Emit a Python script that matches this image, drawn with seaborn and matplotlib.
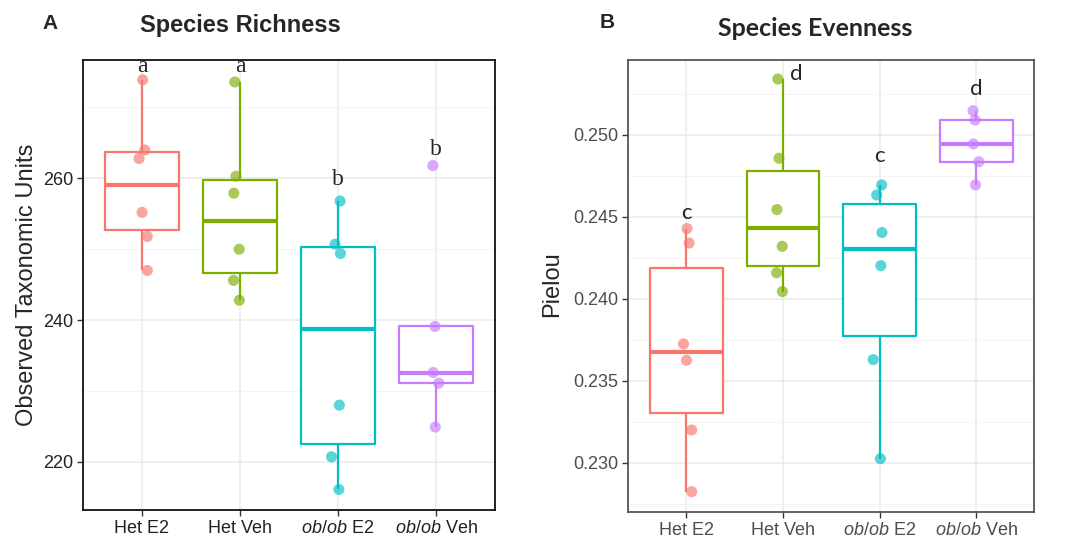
import numpy as np
import pandas as pd
import matplotlib
matplotlib.use("Agg")
import matplotlib.pyplot as plt
import seaborn as sns

#%% data
groups = ["Het E2", "Het Veh", "ob/ob E2", "ob/ob Veh"]
tick_labels = ["Het E2", "Het Veh", r"$\mathit{ob/ob}$ E2", r"$\mathit{ob/ob}$ Veh"]
colors = ["#F8766D", "#7CAE00", "#00BFC4", "#C77CFF"]

# observed taxonomic units (richness)
rich_het_e2 = [273.9, 264.0, 262.8, 255.2, 251.8, 247.0]
rich_het_veh = [273.6, 260.3, 257.9, 250.0, 245.6, 242.8]
rich_ob_e2 = [256.8, 250.7, 249.4, 228.0, 220.7, 216.1]
rich_ob_veh = [261.8, 239.1, 232.6, 231.1, 224.9]

# pielou evenness
even_het_e2 = [0.24429, 0.24341, 0.23726, 0.23626, 0.23201, 0.22825]
even_het_veh = [0.25341, 0.24858, 0.24545, 0.24321, 0.24160, 0.24045]
even_ob_e2 = [0.24695, 0.24634, 0.24405, 0.24203, 0.23630, 0.23026]
even_ob_veh = [0.25148, 0.25091, 0.24945, 0.24837, 0.24695]

# significance letters and where they sit
rich_letters = ["a", "a", "b", "b"]
rich_letter_y = [275.0, 275.0, 259.05, 263.3]
even_letters = ["c", "d", "c", "d"]
even_letter_y = [0.2449, 0.25335, 0.24834, 0.25244]


def make_df(vals):
    rows = []
    for g, v in zip(groups, vals):
        for x in v:
            rows.append((g, x))
    return pd.DataFrame(rows, columns=["group", "value"])


rich = make_df([rich_het_e2, rich_het_veh, rich_ob_e2, rich_ob_veh])
even = make_df([even_het_e2, even_het_veh, even_ob_e2, even_ob_veh])

sns.set_style("white")
plt.rcParams["font.family"] = ["Liberation Sans", "DejaVu Sans"]
plt.rcParams["mathtext.fontset"] = "custom"
plt.rcParams["mathtext.it"] = "Liberation Sans:italic"
plt.rcParams["mathtext.rm"] = "Liberation Sans"

fig = plt.figure(figsize=(10.73, 5.41), dpi=100)
ax1 = fig.add_axes([0.0774, 0.0573, 0.3839, 0.8318])
ax2 = fig.add_axes([0.5856, 0.0530, 0.3783, 0.8361])

pal = dict(zip(groups, colors))


def panel(ax, df, ylim, major, minor, frame_col, tick_col):
    ax.set_axisbelow(True)
    # white box fill first, then coloured outlines on top
    sns.boxplot(data=df, x="group", y="value", order=groups, color="white",
                width=0.75, linewidth=0, showfliers=False, showcaps=False,
                ax=ax)
    sns.boxplot(data=df, x="group", y="value", order=groups, hue="group",
                palette=pal, fill=False, width=0.75, linewidth=1.6,
                showfliers=False, showcaps=False, legend=False,
                medianprops={"linewidth": 3.0}, ax=ax)
    np.random.seed(3)
    sns.stripplot(data=df, x="group", y="value", order=groups, hue="group",
                  palette=pal, jitter=0.07, size=8, alpha=0.65, linewidth=0,
                  legend=False, zorder=5, ax=ax)
    ax.set_xlim(-0.6, 3.6)
    ax.set_ylim(*ylim)
    ax.set_yticks(major)
    ax.set_yticks(minor, minor=True)
    ax.grid(True, which="major", color="#EBEBEB", linewidth=1.1)
    ax.grid(True, which="minor", axis="y", color="#F2F2F2", linewidth=0.6)
    ax.set_xticks(range(4))
    ax.set_xticklabels(tick_labels)
    ax.tick_params(axis="both", which="major", length=4, width=1,
                   color="#333333", labelsize=13, labelcolor=tick_col,
                   direction="out", left=True, bottom=True, pad=3)
    ax.tick_params(axis="y", which="minor", length=0)
    ax.set_xlabel("")
    for s in ax.spines.values():
        s.set_color(frame_col)
        s.set_linewidth(1.3)


panel(ax1, rich, (213.2, 276.7), [220, 240, 260], [230, 250, 270],
      "#111111", "#222222")
panel(ax2, even, (0.22699, 0.25457),
      [0.230, 0.235, 0.240, 0.245, 0.250],
      [0.2275, 0.2325, 0.2375, 0.2425, 0.2475, 0.2525],
      "#555555", "#4D4D4D")
ax2.set_yticklabels(["0.230", "0.235", "0.240", "0.245", "0.250"])

ax1.set_ylabel("Observed Taxonomic Units", fontsize=17, labelpad=4)
ax2.set_ylabel("")
fig.text(0.5145, 0.475, "Pielou", rotation=90, ha="center", va="center",
         fontsize=17)

for i, (t, y) in enumerate(zip(rich_letters, rich_letter_y)):
    ax1.text(i, y, t, ha="center", va="baseline", fontsize=17,
             family="Liberation Serif", zorder=6)
for i, (t, y) in enumerate(zip(even_letters, even_letter_y)):
    dx = 0.14 if i == 1 else 0
    ax2.text(i + dx, y, t, ha="center", va="baseline", fontsize=16,
             family="Lato", zorder=6)

fig.text(0.224, 0.953, "Species Richness", ha="center", va="center",
         fontsize=17, fontweight="bold")
fig.text(0.760, 0.948, "Species Evenness", ha="center", va="center",
         fontsize=18, fontweight="bold", family="Lato")
fig.text(0.047, 0.957, "A", ha="center", va="center", fontsize=15,
         fontweight="bold")
fig.text(0.566, 0.959, "B", ha="center", va="center", fontsize=15,
         fontweight="bold")

fig.savefig("out.png", dpi=100)
